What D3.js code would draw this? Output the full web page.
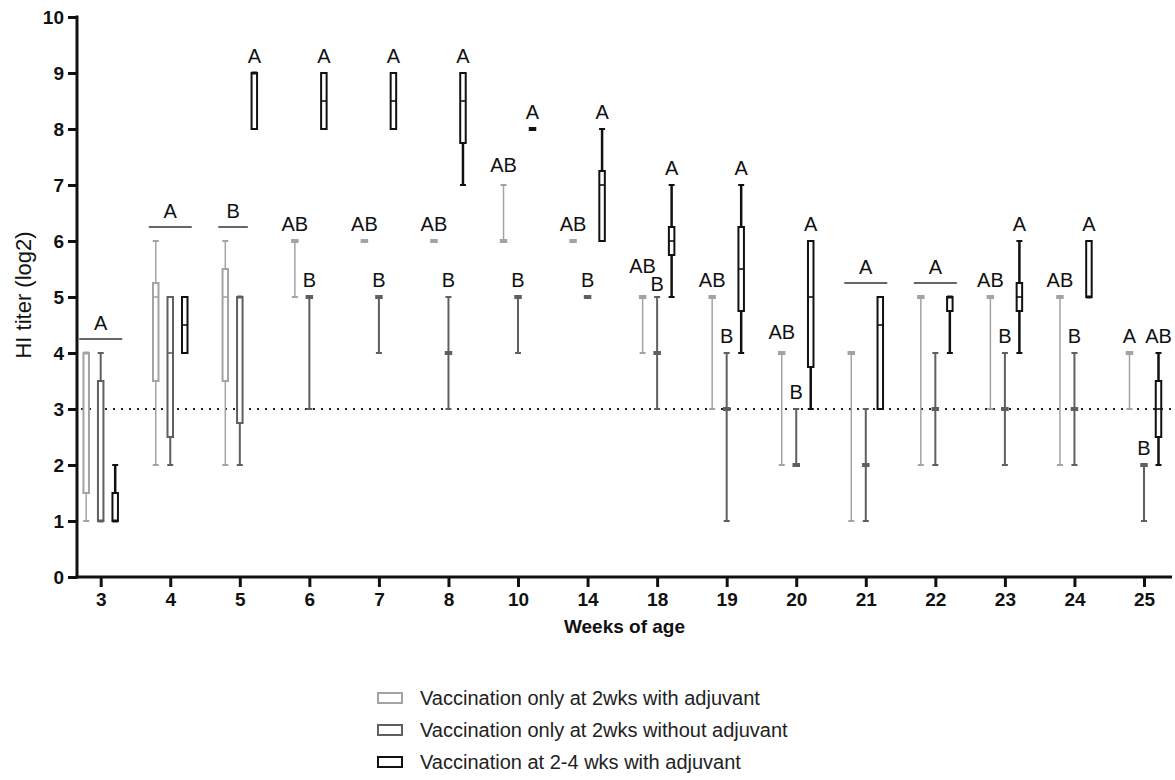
<!DOCTYPE html>
<html>
<head>
<meta charset="utf-8">
<script src="https://cdn.jsdelivr.net/npm/d3@7"></script>
<style>
  html, body { margin: 0; padding: 0; background: #fff; }
  svg { display: block; }
  text { font-family: "Liberation Sans", Arial, Helvetica, sans-serif; }
</style>
</head>
<body>
<svg id="chart" width="1175" height="780"></svg>
<script>
// ---------------- DATA ----------------
const weeks = ["3","4","5","6","7","8","10","14","18","19","20","21","22","23","24","25"];
const yTicks = [0,1,2,3,4,5,6,7,8,9,10];
const seriesNames = [
  "Vaccination only at 2wks with adjuvant",
  "Vaccination only at 2wks without adjuvant",
  "Vaccination at 2-4 wks with adjuvant"
];
// each row: [min, q1, median, q3, max]
const withAdjuvant2wk = [
  [1,1.5,4,4,4],[2,3.5,5,5.25,6],[2,3.5,5,5.5,6],[5,6,6,6,6],[6,6,6,6,6],[6,6,6,6,6],
  [6,6,6,6,7],[6,6,6,6,6],[4,5,5,5,5],[3,5,5,5,5],[2,4,4,4,4],[1,4,4,4,4],
  [2,5,5,5,5],[3,5,5,5,5],[2,5,5,5,5],[3,4,4,4,4]
];
const withoutAdjuvant2wk = [
  [1,1,1,3.5,4],[2,2.5,4,5,5],[2,2.75,5,5,5],[3,5,5,5,5],[4,5,5,5,5],[3,4,4,4,5],
  [4,5,5,5,5],[5,5,5,5,5],[3,4,4,4,5],[1,3,3,3,4],[2,2,2,2,3],[1,2,2,2,3],
  [2,3,3,3,4],[2,3,3,3,4],[2,3,3,3,4],[1,2,2,2,2]
];
const withAdjuvant2to4wk = [
  [1,1,1,1.5,2],[4,4,4.5,5,5],[8,8,9,9,9],[8,8,8.5,9,9],[8,8,8.5,9,9],[7,7.75,8.5,9,9],
  [8,8,8,8,8],[6,6,7,7.25,8],[5,5.75,6,6.25,7],[4,4.75,5.5,6.25,7],[3,3.75,5,6,6],[3,3,4.5,5,5],
  [4,4.75,5,5,5],[4,4.75,5,5.25,6],[5,5,5,6,6],[2,2.5,3,3.5,4]
];
// significance letters per series per week
const lettersSeries1 = ["","","","AB","AB","AB","AB","AB","AB","AB","AB","","","AB","AB","A"];
const lettersSeries2 = ["","","","B","B","B","B","B","B","B","B","","","B","B","B"];
const lettersSeries3 = ["","","A","A","A","A","A","A","A","A","A","","","A","A","AB"];
// group letters (spanning several series) : week, letter, series covered
const groupWeeks   = ["3","4","5","21","22"];
const groupLetters = ["A","A","B","A","A"];
const groupSeries  = [[0,1,2],[0,1,2],[0,1],[0,1,2],[0,1,2]];
const thresholdValue = 3;

// ---------------- LAYOUT / STYLE ----------------
const svg = d3.select("#chart");
const colors = ["#a3a3a3", "#5f5f5f", "#111111"];
const whiskerW = [1.5, 2, 2.5];
const offsets = [-14.5, 0, 14.5];
const boxW = 5.5;
const axisX0 = 77, axisX1 = 1172;

const x = d3.scalePoint().domain(weeks).range([100.7, 1144]).padding(0);
const y = d3.scaleLinear().domain([0, 10]).range([577, 17]);

// threshold dotted line
svg.append("line")
  .attr("x1", axisX0 + 4).attr("x2", axisX1)
  .attr("y1", y(thresholdValue)).attr("y2", y(thresholdValue))
  .attr("stroke", "#222").attr("stroke-width", 2.2)
  .attr("stroke-dasharray", "2,6");

// boxes
const allSeries = [withAdjuvant2wk, withoutAdjuvant2wk, withAdjuvant2to4wk];
const allLetters = [lettersSeries1, lettersSeries2, lettersSeries3];

allSeries.forEach((data, s) => {
  const g = svg.append("g").attr("class", "series-" + s);
  data.forEach((d, i) => {
    const [mn, q1, md, q3, mx] = d;
    const cx = x(weeks[i]) + offsets[s];
    const col = colors[s];
    const sw = whiskerW[s];
    if (mx > q3) {
      g.append("line").attr("x1", cx).attr("x2", cx).attr("y1", y(q3)).attr("y2", y(mx))
        .attr("stroke", col).attr("stroke-width", sw);
      g.append("line").attr("x1", cx - 3).attr("x2", cx + 3).attr("y1", y(mx)).attr("y2", y(mx))
        .attr("stroke", col).attr("stroke-width", 2);
    }
    if (mn < q1) {
      g.append("line").attr("x1", cx).attr("x2", cx).attr("y1", y(q1)).attr("y2", y(mn))
        .attr("stroke", col).attr("stroke-width", sw);
      g.append("line").attr("x1", cx - 3).attr("x2", cx + 3).attr("y1", y(mn)).attr("y2", y(mn))
        .attr("stroke", col).attr("stroke-width", 2);
    }
    if (q3 > q1) {
      g.append("rect")
        .attr("x", cx - boxW / 2).attr("width", boxW)
        .attr("y", y(q3)).attr("height", y(q1) - y(q3))
        .attr("fill", "#fff").attr("stroke", col).attr("stroke-width", 2);
      g.append("line").attr("x1", cx - boxW / 2).attr("x2", cx + boxW / 2)
        .attr("y1", y(md)).attr("y2", y(md))
        .attr("stroke", col).attr("stroke-width", (md === q1 || md === q3) ? 3 : 1.6);
    } else {
      g.append("rect")
        .attr("x", cx - (boxW + 2) / 2).attr("width", boxW + 2)
        .attr("y", y(md) - 2).attr("height", 4)
        .attr("fill", col);
    }
  });
});

// letters above series
const letterAdjust = { "1-8": 14, "2-8": -4, "1-6": 3, "1-10": 4 };
allLetters.forEach((arr, s) => {
  arr.forEach((t, i) => {
    if (!t) return;
    const mx = allSeries[s][i][4];
    const extra = letterAdjust[(s + 1) + "-" + i] || 0;
    svg.append("text")
      .attr("x", x(weeks[i]) + offsets[s])
      .attr("y", y(mx) - 10 - extra)
      .attr("text-anchor", "middle")
      .attr("font-size", 20)
      .attr("fill", "#111")
      .text(t);
  });
});

// group letters with line
groupWeeks.forEach((w, k) => {
  const i = weeks.indexOf(w);
  const ss = groupSeries[k];
  const gmax = d3.max(ss, s => allSeries[s][i][4]);
  const ly = y(gmax + 0.25);
  const cx = x(w);
  const left = cx + offsets[ss[0]] - 7;
  const right = ss.length === 3 ? cx + offsets[2] + 7 : cx + offsets[ss[ss.length - 1]] + 8;
  svg.append("line").attr("x1", left).attr("x2", right).attr("y1", ly).attr("y2", ly)
    .attr("stroke", "#333").attr("stroke-width", 1.5);
  svg.append("text")
    .attr("x", (left + right) / 2).attr("y", ly - 9)
    .attr("text-anchor", "middle").attr("font-size", 20).attr("fill", "#111")
    .text(groupLetters[k]);
});

// axes
const yAxis = d3.axisLeft(y).tickValues(yTicks).tickSize(9).tickPadding(4);
const gy = svg.append("g").attr("transform", `translate(${axisX0},0)`).call(yAxis);
gy.select(".domain").remove();
gy.selectAll(".tick line").attr("stroke", "#111").attr("stroke-width", 3);
gy.selectAll(".tick text").attr("font-size", 19).attr("font-weight", "bold").attr("fill", "#111")
  .attr("font-family", '"Liberation Sans", Arial, sans-serif');

const xAxis = d3.axisBottom(x).tickSize(10).tickPadding(6);
const gx = svg.append("g").attr("transform", `translate(0,${y(0)})`).call(xAxis);
gx.select(".domain").remove();
gx.selectAll(".tick line").attr("stroke", "#111").attr("stroke-width", 3);
gx.selectAll(".tick text").attr("font-size", 19).attr("font-weight", "bold").attr("fill", "#111")
  .attr("font-family", '"Liberation Sans", Arial, sans-serif');

svg.append("line").attr("x1", axisX0).attr("x2", axisX0).attr("y1", y(10) - 1.5).attr("y2", y(0) + 1.5)
  .attr("stroke", "#111").attr("stroke-width", 3);
svg.append("line").attr("x1", axisX0 - 1.5).attr("x2", axisX1).attr("y1", y(0)).attr("y2", y(0))
  .attr("stroke", "#111").attr("stroke-width", 3);

// axis titles
svg.append("text").attr("x", (axisX0 + axisX1) / 2).attr("y", 633)
  .attr("text-anchor", "middle").attr("font-size", 19).attr("font-weight", "bold").attr("fill", "#111")
  .text("Weeks of age");
svg.append("text").attr("transform", "translate(31,295) rotate(-90)")
  .attr("text-anchor", "middle").attr("font-size", 22).attr("fill", "#111")
  .text("HI titer (log2)");

// legend
const legend = svg.append("g");
seriesNames.forEach((n, s) => {
  const ly = 698 + s * 32;
  legend.append("rect").attr("x", 378).attr("y", ly - 5).attr("width", 24).attr("height", 10)
    .attr("fill", "#fff").attr("stroke", colors[s]).attr("stroke-width", 2);
  legend.append("text").attr("x", 420).attr("y", ly + 7).attr("font-size", 20).attr("fill", "#222")
    .text(n);
});
</script>
</body>
</html>
